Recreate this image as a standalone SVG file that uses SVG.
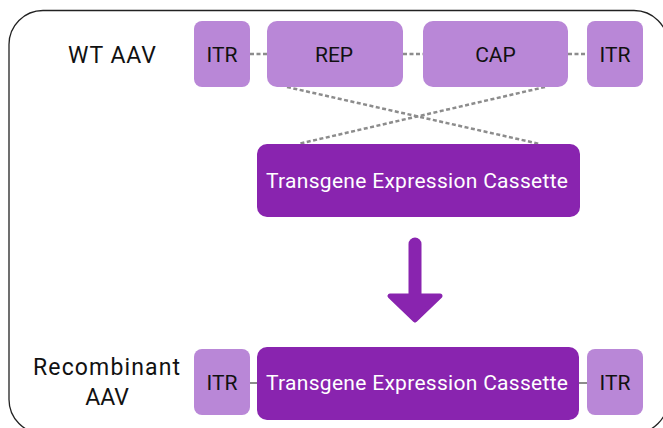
<svg xmlns="http://www.w3.org/2000/svg" width="663" height="428" viewBox="0 0 663 428">
  <style>
    .frame { fill: #ffffff; stroke: #222222; stroke-width: 1.3; }
    .seg { fill: #B987D7; }
    .tec { fill: #8924AF; }
    .lbl { font-family: Roboto, "Liberation Sans", sans-serif; font-size: 23px; fill: #111111; }
    .seglbl { font-family: Roboto, "Liberation Sans", sans-serif; font-size: 21px; fill: #111111; text-anchor: middle; }
    .teclbl { font-family: Roboto, "Liberation Sans", sans-serif; font-size: 21px; fill: #ffffff; text-anchor: middle; }
    .link { stroke: #8c8c8c; stroke-width: 2.5; stroke-dasharray: 4 2.5; fill: none; }
    .solidlink { stroke: #8c8c8c; stroke-width: 2; fill: none; }
  </style>

  <rect class="frame" x="9" y="10.5" width="659" height="423" rx="34" ry="34"/>

  <g id="labels">
    <text class="lbl" x="112" y="63" text-anchor="middle" textLength="88" lengthAdjust="spacing">WT AAV</text>
    <text class="lbl" x="106.5" y="375" text-anchor="middle" textLength="147" lengthAdjust="spacing">Recombinant</text>
    <text class="lbl" x="107" y="405" text-anchor="middle">AAV</text>
  </g>

  <g id="connectors">
    <line class="link" x1="250" y1="54" x2="267" y2="54"/>
    <line class="link" x1="403" y1="54" x2="423" y2="54"/>
    <line class="link" x1="568" y1="54" x2="587" y2="54"/>
    <line class="link" x1="287" y1="87" x2="540" y2="144"/>
    <line class="link" x1="545" y1="87" x2="298" y2="144"/>
    <line class="solidlink" x1="249" y1="383" x2="258" y2="383"/>
    <line class="solidlink" x1="578" y1="383" x2="587" y2="383"/>
    <g id="arrow" fill="#8924AF" stroke="#8924AF">
      <line x1="415" y1="244" x2="415" y2="298" stroke-width="13" stroke-linecap="round"/>
      <polygon points="390,296 440,296 415,320" stroke-width="5" stroke-linejoin="round"/>
    </g>
  </g>

  <g id="wt-itr-left">
    <rect class="seg" x="194" y="21" width="56" height="66" rx="8"/>
    <text class="seglbl" x="222" y="62">ITR</text>
  </g>
  <g id="wt-rep">
    <rect class="seg" x="267" y="21" width="136" height="66" rx="10"/>
    <text class="seglbl" x="334" y="62">REP</text>
  </g>
  <g id="wt-cap">
    <rect class="seg" x="423" y="21" width="145" height="66" rx="10"/>
    <text class="seglbl" x="495.5" y="62">CAP</text>
  </g>
  <g id="wt-itr-right">
    <rect class="seg" x="587" y="21" width="56" height="66" rx="8"/>
    <text class="seglbl" x="615" y="62">ITR</text>
  </g>

  <g id="cassette">
    <rect class="tec" x="257" y="144" width="323" height="73" rx="10"/>
    <text class="teclbl" x="417" y="188" textLength="302" lengthAdjust="spacing">Transgene Expression Cassette</text>
  </g>

  <g id="rec-itr-left">
    <rect class="seg" x="194" y="349" width="56" height="66" rx="8"/>
    <text class="seglbl" x="222" y="390">ITR</text>
  </g>
  <g id="rec-cassette">
    <rect class="tec" x="257" y="347" width="322" height="73" rx="10"/>
    <text class="teclbl" x="417" y="390" textLength="302" lengthAdjust="spacing">Transgene Expression Cassette</text>
  </g>
  <g id="rec-itr-right">
    <rect class="seg" x="587" y="349" width="56" height="66" rx="8"/>
    <text class="seglbl" x="615" y="390">ITR</text>
  </g>
</svg>
